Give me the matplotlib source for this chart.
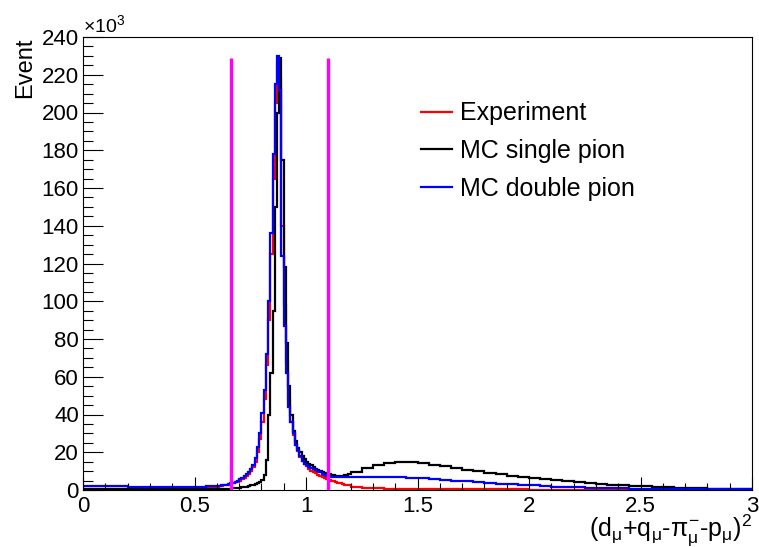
import numpy as np
import matplotlib
matplotlib.use("Agg")
import matplotlib.pyplot as plt
from matplotlib.ticker import MultipleLocator

plt.rcParams['font.family'] = ['Liberation Sans', 'DejaVu Sans']
plt.rcParams['mathtext.fontset'] = 'custom'
plt.rcParams['mathtext.rm'] = 'Liberation Sans'
plt.rcParams['mathtext.it'] = 'Liberation Sans'
plt.rcParams['mathtext.sf'] = 'Liberation Sans'

# bin edges: 0.05 wide in the tails, 0.01 wide around the peak (0.6 - 1.2)
edges = np.concatenate([np.arange(0, 0.6, 0.05),
                        np.arange(0.6, 1.2, 0.01),
                        np.arange(1.2, 3.0001, 0.05)])

# counts in units of 10^3
# left tail 0 - 0.6 (0.05 bins)
exp_left = [0.5, 0.5, 0.5, 0.5, 0.5, 0.5, 0.5, 0.6, 0.7, 0.9, 1.1, 1.6]
single_left = [0.3, 0.3, 0.3, 0.3, 0.3, 0.3, 0.3, 0.3, 0.3, 0.3, 0.3, 0.4]
double_left = [2.2, 2.0, 2.0, 1.9, 1.8, 1.7, 1.6, 1.5, 1.4, 1.4, 1.6, 2.0]

# peak region 0.6 - 1.2 (0.01 bins)
exp_peak = [1.8, 2.0, 2.2, 2.4, 2.6, 2.9, 3.2, 3.6, 4.0, 4.5,
            5.0, 5.7, 6.5, 7.5, 8.5, 10, 12, 15, 20, 27,
            36, 48, 66, 90, 125, 165, 205, 226, 218, 140,
            98, 68, 48, 36, 29, 24, 20.5, 17.5, 15.5, 13.8,
            12.5, 11.3, 10.3, 9.5, 8.8, 8.1, 7.5, 6.9, 6.4, 5.9,
            5.4, 5.0, 4.6, 4.2, 3.8, 3.5, 3.2, 2.9, 2.6, 2.4]
single_peak = [0.4, 0.4, 0.5, 0.5, 0.6, 0.6, 0.7, 0.8, 0.9, 1.0,
               1.2, 1.4, 1.6, 1.8, 2.1, 2.4, 2.8, 3.2, 3.7, 4.3,
               5.5, 8, 16, 40, 62, 95, 150, 200, 229, 175,
               118, 78, 55, 40, 31, 26, 22.5, 20, 18, 16.5,
               15, 14, 13, 12, 11.2, 10.5, 10, 9.5, 9.1, 8.7,
               8.3, 8.0, 7.7, 7.5, 7.4, 7.4, 7.5, 7.7, 8.0, 8.3]
double_peak = [2.2, 2.3, 2.4, 2.6, 2.8, 3.1, 3.5, 3.9, 4.4, 5.0,
               5.8, 6.5, 7.5, 8.5, 9.5, 11, 13.5, 17, 23, 30,
               41, 53, 72, 100, 136, 178, 215, 230, 212, 124,
               87, 62, 44, 36, 30, 24, 21, 18, 15.5, 14,
               13, 12.2, 11.5, 11, 10.5, 10, 9.3, 8.6, 8.0, 7.5,
               7.0, 6.8, 6.8, 6.8, 6.8, 6.9, 6.9, 7.0, 7.0, 7.0]

# right tail 1.2 - 3.0 (0.05 bins)
exp_right = [1.7, 1.2, 0.9, 0.6, 0.5, 0.4, 0.35, 0.3, 0.3, 0.3,
             0.3, 0.3, 0.3, 0.3, 0.3, 0.3, 0.25, 0.25, 0.25, 0.25,
             0.25, 0.25, 0.25, 0.25, 0.25, 0.25, 0.2, 0.2, 0.2, 0.2,
             0.2, 0.2, 0.2, 0.2, 0.2, 0.2]
single_right = [9.5, 11.5, 13.2, 14.3, 15.0, 14.9, 14.3, 13.5, 12.6, 11.7,
                10.8, 9.9, 9.1, 8.3, 7.6, 7.0, 6.4, 5.9, 5.4, 4.8,
                4.2, 3.7, 3.3, 2.9, 2.6, 2.3, 2.0, 1.8, 1.5, 1.3,
                1.1, 0.9, 0.7, 0.5, 0.4, 0.3]
double_right = [7.0, 7.1, 7.0, 6.9, 6.7, 6.5, 6.2, 5.8, 5.4, 5.0,
                4.6, 4.2, 3.8, 3.4, 3.0, 2.7, 2.4, 2.1, 1.8, 1.6,
                1.4, 1.2, 1.0, 0.9, 0.8, 0.7, 0.6, 0.5, 0.5, 0.4,
                0.4, 0.4, 0.3, 0.3, 0.3, 0.3]

experiment = np.array(exp_left + exp_peak + exp_right)
single_pion = np.array(single_left + single_peak + single_right)
double_pion = np.array(double_left + double_peak + double_right)

cut_low, cut_high, cut_top = 0.665, 1.10, 229

fig = plt.figure(figsize=(7.59, 5.47), dpi=100)
ax = fig.add_axes([83 / 759, 1 - 490 / 547, (752 - 83) / 759, (490 - 37) / 547])

ax.stairs(experiment, edges, color='#ff0000', lw=1.6, label='Experiment')
ax.stairs(single_pion, edges, color='black', lw=1.6, label='MC single pion')
ax.stairs(double_pion, edges, color='#0000ff', lw=1.6, label='MC double pion')
ax.vlines([cut_low, cut_high], 0, cut_top, color='#ff00ff', lw=2.4, zorder=5)

ax.set_xlim(0, 3)
ax.set_ylim(0, 240)
ax.xaxis.set_major_locator(MultipleLocator(0.5))
ax.xaxis.set_minor_locator(MultipleLocator(0.1))
ax.yaxis.set_major_locator(MultipleLocator(20))
ax.yaxis.set_minor_locator(MultipleLocator(5))
ax.xaxis.set_major_formatter(plt.FuncFormatter(lambda v, p: f"{v:g}"))
ax.tick_params(axis='both', which='both', direction='in', top=False, right=False,
               labelsize=16, width=0.8)
ax.tick_params(axis='x', which='major', length=9.5, pad=4)
ax.tick_params(axis='x', which='minor', length=5)
ax.tick_params(axis='y', which='major', length=14.5, pad=3)
ax.tick_params(axis='y', which='minor', length=7)
for s in ax.spines.values():
    s.set_linewidth(0.8)

ax.text(0.0, 1.003, r'$\times10^{3}$', transform=ax.transAxes, fontsize=14,
        ha='left', va='bottom')
ax.set_ylabel('Event', fontsize=17, loc='top', labelpad=4)
ax.set_xlabel(r'(d$_{\mu}$+q$_{\mu}$-$\pi^{-}_{\mu}$-p$_{\mu}$)$^{2}$', fontsize=18,
              loc='right', labelpad=-3)

ax.legend(loc='upper left', bbox_to_anchor=(0.49, 0.88), frameon=False,
          fontsize=18, handlelength=1.25, handletextpad=0.3, labelspacing=0.55,
          borderaxespad=0)

fig.savefig('out.png', dpi=100)
